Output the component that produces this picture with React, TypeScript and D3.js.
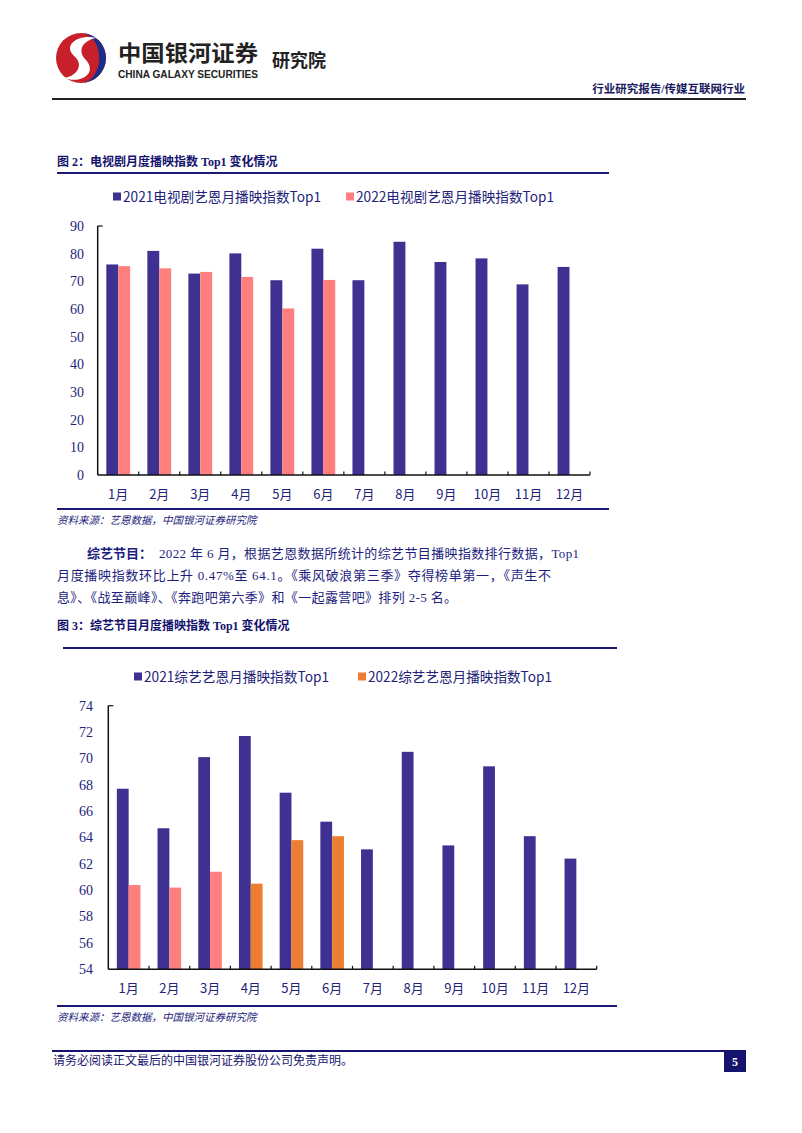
import * as d3 from "d3";
import React from "react";

// chart data
const months = ["1月", "2月", "3月", "4月", "5月", "6月", "7月", "8月", "9月", "10月", "11月", "12月"];
const tv2021 = [76.1, 81.0, 72.8, 80.1, 70.4, 81.8, 70.4, 84.3, 77.0, 78.3, 68.9, 75.2];
const tv2022 = [75.5, 74.7, 73.4, 71.6, 60.2, 70.5];
const tvTicks = [0, 10, 20, 30, 40, 50, 60, 70, 80, 90];
const show2021 = [67.7, 64.7, 70.1, 71.7, 67.4, 65.2, 63.1, 70.5, 63.4, 69.4, 64.1, 62.4];
const show2022 = [60.4, 60.2, 61.4, 60.5, 63.8, 64.1];
const showTicks = [54, 56, 58, 60, 62, 64, 66, 68, 70, 72, 74];

const NAVY = "#3f3192";
const PINK = "#ff7f7f";
const ORANGE = "#ed7d31";
const TXT = "#23237a";
const SERIF = "'Liberation Serif', 'Times New Roman', 'Noto Sans CJK SC', serif";
const CJK = "'Noto Sans CJK SC', 'Liberation Sans', sans-serif";

const BarChart = ({ left, right, top, bottom, domain, ticks, a, b, colorB, labelX }) => {
  const x = d3.scaleBand().domain(months).range([left, right]).padding(0);
  const y = d3.scaleLinear().domain(domain).range([bottom, top]);
  const bw = x.bandwidth();
  const barW = bw * 0.29;
  return (
    <g>
      {a.map((v, i) => (
        <rect key={"a" + i} x={x(months[i]) + bw / 2 - barW} y={y(v)} width={barW} height={bottom - y(v)} fill={NAVY} />
      ))}
      {b.map((v, i) => (
        <rect key={"b" + i} x={x(months[i]) + bw / 2} y={y(v)} width={barW} height={bottom - y(v)} fill={colorB(i)} />
      ))}
      <line x1={left} x2={left} y1={top} y2={bottom} stroke="#111" strokeWidth={1.5} />
      <line x1={left} x2={left + 5} y1={top} y2={top} stroke="#111" strokeWidth={1.2} />
      <line x1={left} x2={right} y1={bottom} y2={bottom} stroke="#111" strokeWidth={1.5} />
      {months.map((m, i) => (
        <line key={"t" + i} x1={x(m) + bw} x2={x(m) + bw} y1={bottom} y2={bottom - 3.5} stroke="#111" strokeWidth={1.2} />
      ))}
      {ticks.map((t) => (
        <text key={t} x={labelX} y={y(t)} dy="0.35em" textAnchor="end" fontFamily={SERIF} fontSize={14} fill={TXT}>{t}</text>
      ))}
      {months.map((m) => (
        <text key={m} x={x(m) + bw / 2} y={bottom + 19} dy="0.35em" textAnchor="middle" fontFamily={CJK} fontSize={13} fill={TXT}>{m}</text>
      ))}
    </g>
  );
};

const Legend = ({ y, items }) => (
  <g>
    {items.map((it, i) => (
      <g key={i}>
        <rect x={it.x} y={y - 4.5} width={8} height={8} fill={it.color} />
        <text x={it.x + 10} y={y} dy="0.35em" fontFamily={CJK} fontSize={14} fill={TXT} textLength={it.w} lengthAdjust="spacingAndGlyphs">{it.label}</text>
      </g>
    ))}
  </g>
);

const Logo = () => (
  <g>
    <circle cx={81} cy={58} r={25} fill="#c8202a" />
    <path d="M 81 33 A 25 25 0 0 1 81 83 A 16 22 0 0 0 81 33 Z" fill="#1c2e8a" />
    <path d="M 96 38 C 80 34, 62 44, 74 56 C 84 64, 78 76, 64 78 C 80 84, 98 74, 86 60 C 76 50, 84 40, 96 38 Z" fill="#fff" />
  </g>
);

export default function App() {
  return (
    <svg width={802} height={1133} style={{ position: "absolute", left: 0, top: 0, background: "#fff" }}>
      {/* header */}
      <Logo />
      <text x={118} y={61} fontFamily={CJK} fontWeight="bold" fontSize={22} fill="#222" textLength={140} lengthAdjust="spacingAndGlyphs">中国银河证券</text>
      <text x={118} y={78} fontFamily="'Liberation Sans', Arial, sans-serif" fontWeight="bold" fontSize={10} fill="#222" textLength={140} lengthAdjust="spacingAndGlyphs">CHINA GALAXY SECURITIES</text>
      <text x={272} y={67} fontFamily={CJK} fontWeight="bold" fontSize={18} fill="#222">研究院</text>
      <text x={745} y={93} textAnchor="end" fontFamily={SERIF} fontWeight="bold" fontSize={11.5} fill="#1a1a5e">行业研究报告/传媒互联网行业</text>
      <line x1={52} x2={746} y1={99} y2={99} stroke="#222" strokeWidth={2} />

      {/* figure 2 */}
      <text x={57} y={166} fontFamily={SERIF} fontWeight="bold" fontSize={12} fill="#14146e">图 2：电视剧月度播映指数 Top1 变化情况</text>
      <line x1={57} x2={609} y1={173} y2={173} stroke="#1a1a72" strokeWidth={2} />
      <Legend
        y={197}
        items={[
          { x: 113, color: NAVY, label: "2021电视剧艺恩月播映指数Top1", w: 198 },
          { x: 346, color: PINK, label: "2022电视剧艺恩月播映指数Top1", w: 198 },
        ]}
      />
      <BarChart left={97.7} right={590} top={226} bottom={475} domain={[0, 90]} ticks={tvTicks} a={tv2021} b={tv2022} colorB={() => PINK} labelX={84} />
      <line x1={57} x2={609} y1={509} y2={509} stroke="#1a1a72" strokeWidth={2} />
      <text x={57} y={524} fontFamily={SERIF} fontStyle="italic" fontSize={10.5} fill={TXT}>资料来源：艺恩数据，中国银河证券研究院</text>

      {/* paragraph */}
      <g fontFamily={SERIF} fontSize={13} fill="#1e1e80">
        <text x={87} y={558}>
          <tspan fontWeight="bold">综艺节目：</tspan>
        </text>
        <text x={159} y={558} textLength={420} lengthAdjust="spacing">2022 年 6 月，根据艺恩数据所统计的综艺节目播映指数排行数据，Top1</text>
        <text x={57} y={580} textLength={494} lengthAdjust="spacing">月度播映指数环比上升 0.47%至 64.1。《乘风破浪第三季》夺得榜单第一，《声生不</text>
        <text x={57} y={602} textLength={400} lengthAdjust="spacing">息》、《战至巅峰》、《奔跑吧第六季》和《一起露营吧》排列 2-5 名。</text>
      </g>

      {/* figure 3 */}
      <text x={57} y={630} fontFamily={SERIF} fontWeight="bold" fontSize={12} fill="#14146e">图 3：综艺节目月度播映指数 Top1 变化情况</text>
      <line x1={63} x2={617} y1={648} y2={648} stroke="#1a1a72" strokeWidth={2} />
      <Legend
        y={677}
        items={[
          { x: 134, color: NAVY, label: "2021综艺艺恩月播映指数Top1", w: 185 },
          { x: 358, color: ORANGE, label: "2022综艺艺恩月播映指数Top1", w: 184 },
        ]}
      />
      <BarChart left={108.3} right={596.7} top={705.7} bottom={969.3} domain={[54, 74]} ticks={showTicks} a={show2021} b={show2022} colorB={(i) => (i < 3 ? PINK : ORANGE)} labelX={93} />
      <line x1={57} x2={617} y1={1006} y2={1006} stroke="#1a1a72" strokeWidth={2} />
      <text x={57} y={1021} fontFamily={SERIF} fontStyle="italic" fontSize={10.5} fill={TXT}>资料来源：艺恩数据，中国银河证券研究院</text>

      {/* footer */}
      <line x1={52} x2={746} y1={1051} y2={1051} stroke="#14146e" strokeWidth={2} />
      <text x={53} y={1065} fontFamily={SERIF} fontSize={12} fill="#14146e">请务必阅读正文最后的中国银河证券股份公司免责声明。</text>
      <rect x={724} y={1051} width={22} height={21} fill="#14146e" />
      <text x={735} y={1062} dy="0.35em" textAnchor="middle" fontFamily={SERIF} fontWeight="bold" fontSize={12} fill="#fff">5</text>
    </svg>
  );
}
